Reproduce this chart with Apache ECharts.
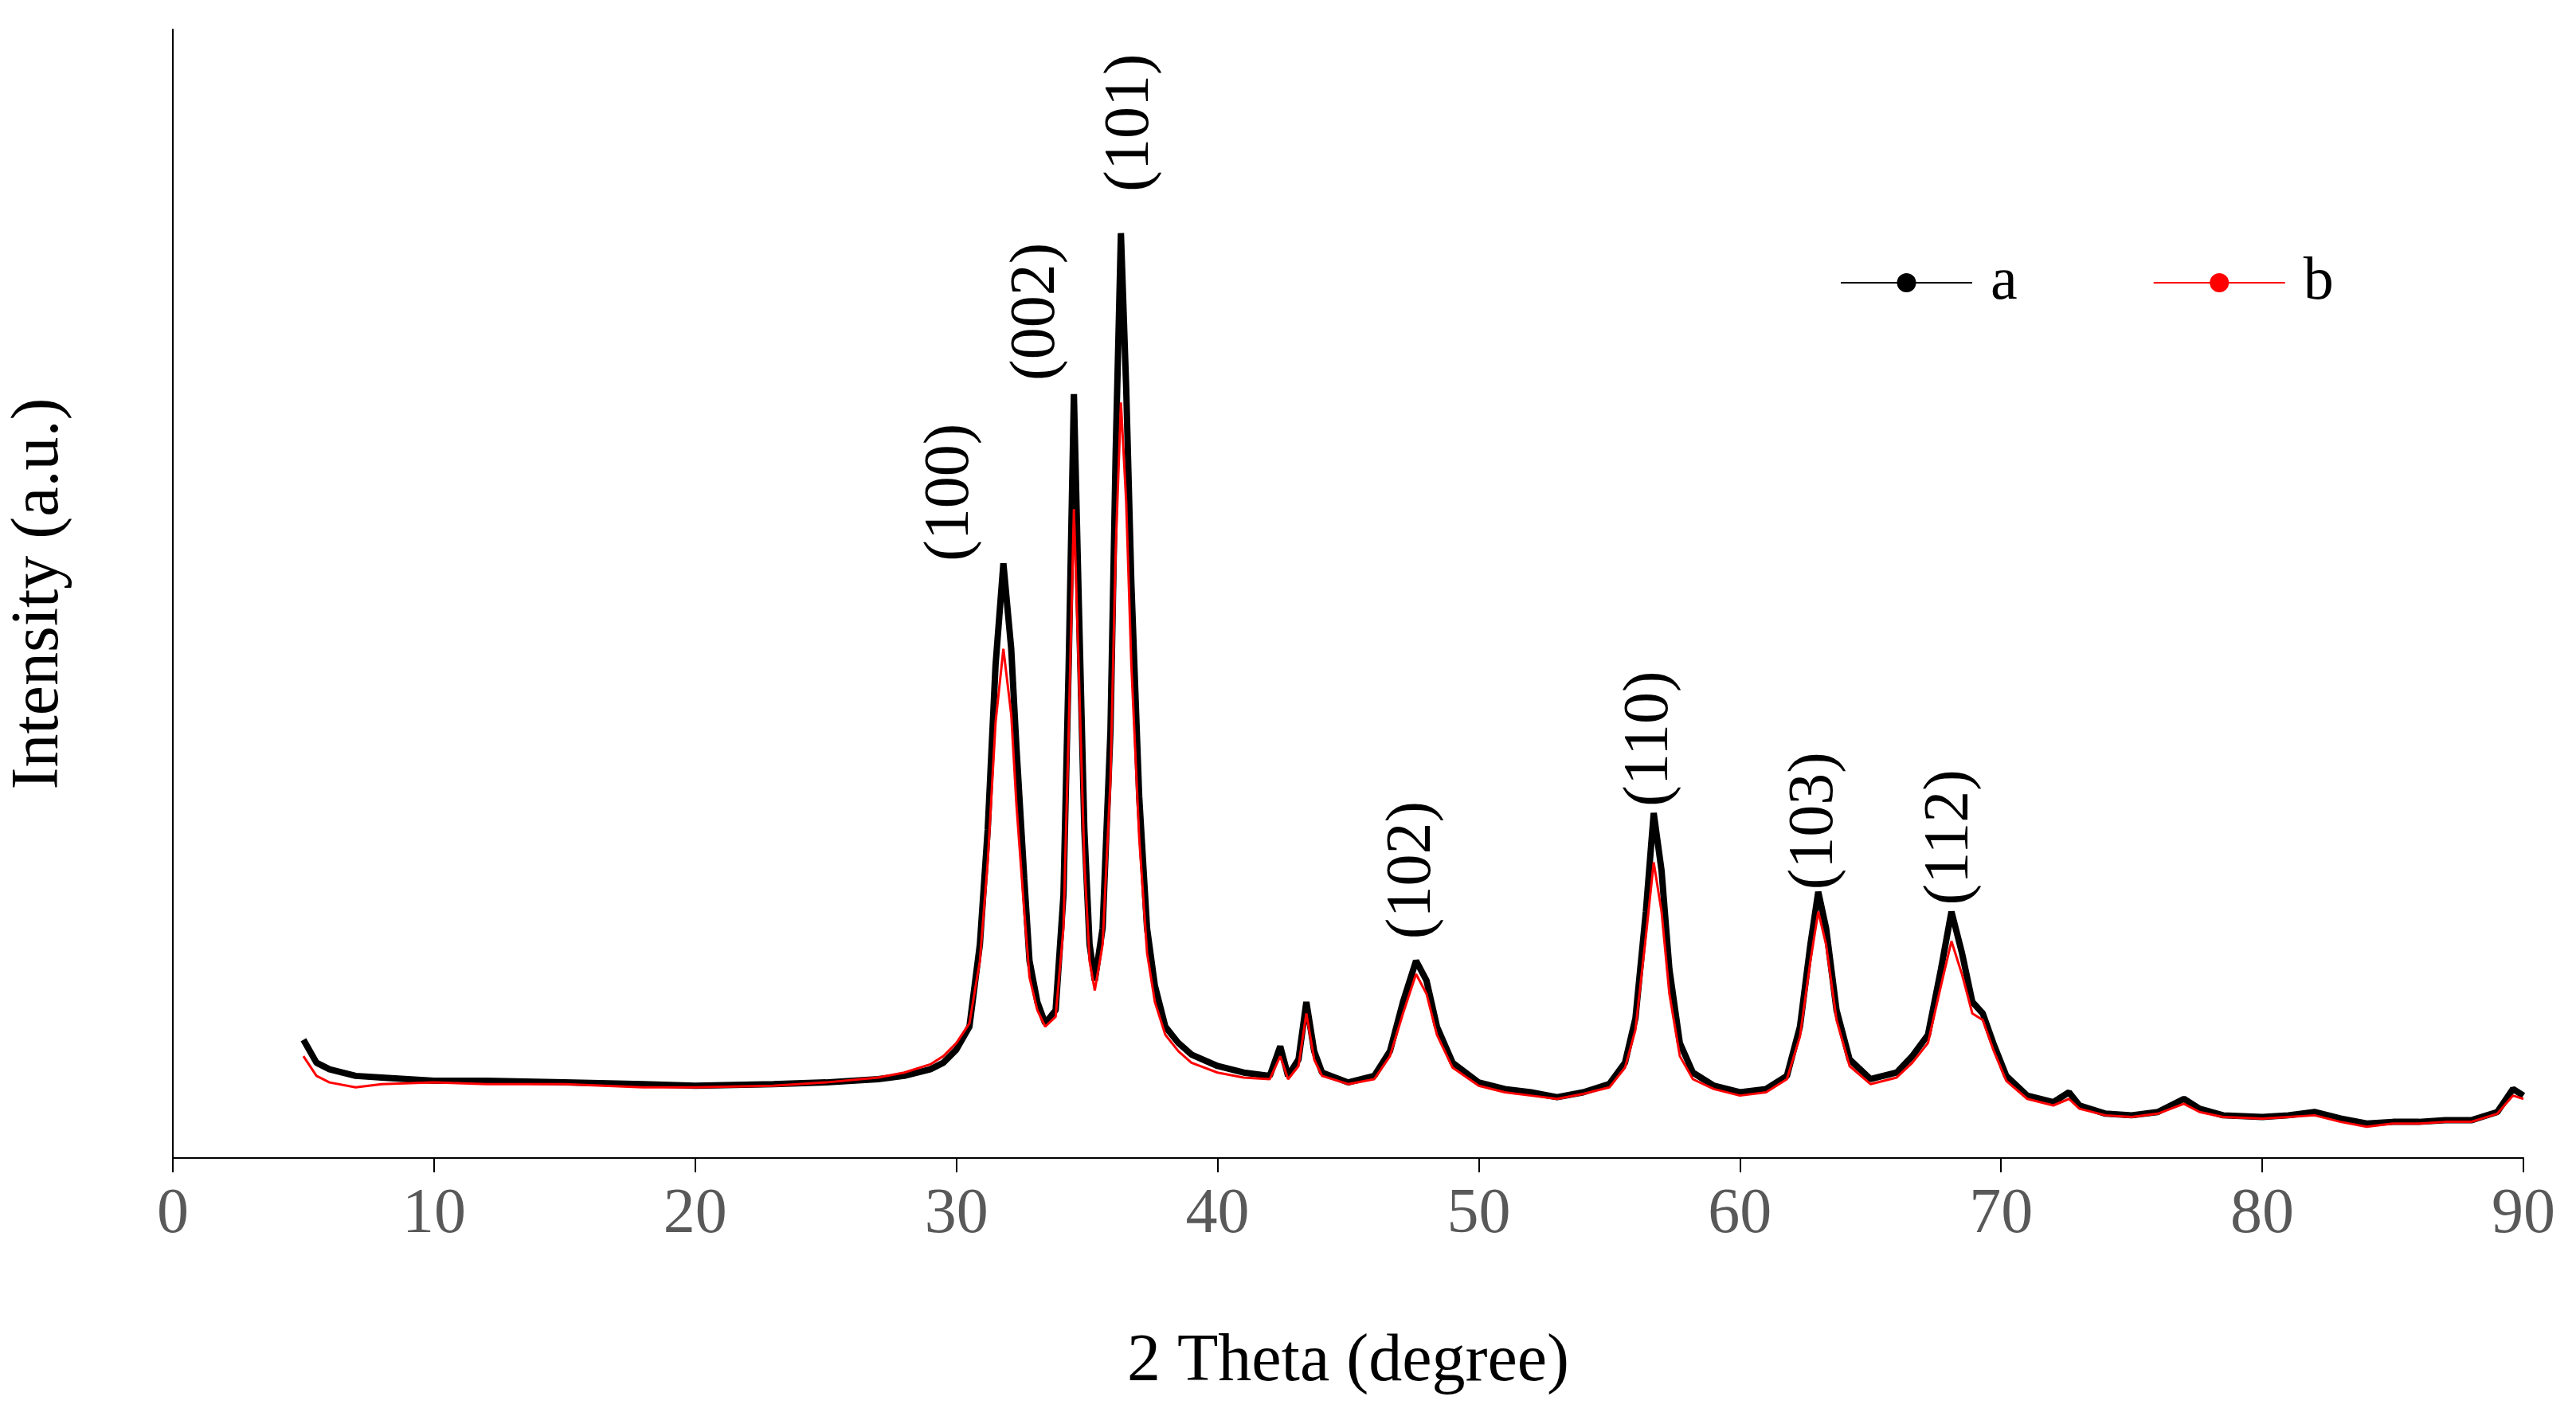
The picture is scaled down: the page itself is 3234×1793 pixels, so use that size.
<!DOCTYPE html>
<html>
<head>
<meta charset="utf-8">
<script src="https://cdn.jsdelivr.net/npm/echarts@6/dist/echarts.min.js"></script>
<style>html,body{margin:0;padding:0;background:#fff}#chart{width:3234px;height:1793px}</style>
</head>
<body>
<div id="chart"></div>
<script>
// sample a: [2theta, intensity]
const seriesA = [
  [5,72],[5.5,58],[6,54],[7,50],[8,49],[10,47],[12,47],[15,46],[18,45],[20,44],[23,45],[25,46],[27,48],[28,50],[29,54],[29.5,58],
  [30,66],[30.5,80],[30.9,130],[31.2,200],[31.5,300],[31.8,362],[32.1,310],[32.3,250],[32.6,170],[32.8,120],[33.1,95],[33.4,82],[33.8,90],
  [34.1,160],[34.3,300],[34.5,465],[34.7,330],[34.9,200],[35.1,130],[35.3,108],[35.6,140],[35.9,260],[36.1,430],[36.3,563],[36.5,470],
  [36.7,350],[37,220],[37.3,140],[37.6,105],[38,80],[38.5,70],[39,63],[40,56],[41,52],[42,50],[42.4,68],[42.7,50],[43.1,60],[43.4,95],
  [43.7,65],[44,52],[45,46],[46,50],[46.6,65],[47.1,95],[47.6,120],[48,108],[48.4,80],[49,58],[50,46],[51,42],[52,40],[53,37],[54,40],
  [55,45],[55.6,58],[56,85],[56.4,150],[56.7,210],[57,175],[57.3,115],[57.7,70],[58.2,52],[59,44],[60,40],[61,42],[61.8,50],[62.3,80],
  [62.7,130],[63,162],[63.3,140],[63.7,90],[64.2,60],[65,48],[66,52],[66.6,62],[67.2,75],[67.7,115],[68.1,150],[68.5,125],[68.9,95],
  [69.3,88],[69.7,70],[70.2,50],[71,38],[72,34],[72.6,40],[73,32],[74,27],[75,26],[76,28],[77,36],[77.6,30],[78.5,26],[80,25],
  [81,26],[82,28],[83,24],[84,21],[85,22],[86,22],[87,23],[88,23],[89,28],[89.6,42],[90,38]
];
// sample b
const seriesB = [
  [5,62],[5.5,50],[6,46],[7,43],[8,45],[10,46],[12,45],[15,45],[18,43],[20,43],[23,44],[25,46],[27,49],[28,52],[29,57],[29.5,62],
  [30,70],[30.5,82],[30.9,120],[31.2,180],[31.5,265],[31.8,310],[32.1,270],[32.3,215],[32.6,150],[32.8,110],[33.1,90],[33.4,80],[33.8,86],
  [34.1,140],[34.3,260],[34.5,395],[34.7,290],[34.9,180],[35.1,120],[35.3,102],[35.6,130],[35.9,230],[36.1,370],[36.3,460],[36.5,400],
  [36.7,300],[37,195],[37.3,125],[37.6,95],[38,75],[38.5,65],[39,58],[40,52],[41,49],[42,48],[42.4,62],[42.7,48],[43.1,56],[43.4,88],
  [43.7,60],[44,50],[45,45],[46,48],[46.6,62],[47.1,88],[47.6,112],[48,100],[48.4,75],[49,55],[50,44],[51,40],[52,38],[53,36],[54,39],
  [55,43],[55.6,55],[56,78],[56.4,135],[56.7,180],[57,150],[57.3,100],[57.7,62],[58.2,48],[59,42],[60,38],[61,40],[61.8,48],[62.3,74],
  [62.7,120],[63,150],[63.3,130],[63.7,84],[64.2,56],[65,45],[66,49],[66.6,58],[67.2,70],[67.7,105],[68.1,132],[68.5,112],[68.9,88],
  [69.3,84],[69.7,66],[70.2,47],[71,36],[72,32],[72.6,36],[73,30],[74,26],[75,25],[76,27],[77,33],[77.6,28],[78.5,25],[80,24],
  [81,25],[82,26],[83,22],[84,19],[85,21],[86,21],[87,22],[88,22],[89,27],[89.6,38],[90,36]
];
const peakLabels = ['(100)','(002)','(101)','(102)','(110)','(103)','(112)'];
const peakPos = [[29.8,405],[33.1,515],[36.7,630],[47.5,175],[56.6,255],[62.9,205],[68.1,195]];
const xTicks = [0,10,20,30,40,50,60,70,80,90];

const chart = echarts.init(document.getElementById('chart'));
const serif = 'Liberation Serif';

chart.setOption({
  animation: false,
  backgroundColor: '#fff',
  grid: {left: 214, right: 66, top: 37, bottom: 339},
  legend: {
    left: 2305, top: 312, itemWidth: 165, itemHeight: 30, itemGap: 170,
    textStyle: {fontFamily: serif, fontSize: 76, color: '#000', padding: [0, 0, 0, 18]},
    data: ['a', 'b']
  },
  xAxis: {
    type: 'value', min: xTicks[0], max: xTicks[xTicks.length - 1], interval: 10,
    name: '2 Theta (degree)', nameLocation: 'middle', nameGap: 215,
    nameTextStyle: {fontFamily: serif, fontSize: 84, color: '#000'},
    axisLine: {lineStyle: {color: '#000', width: 2}},
    axisTick: {inside: false, length: 18, lineStyle: {color: '#000', width: 2}},
    axisLabel: {fontFamily: serif, fontSize: 80, color: '#595959', margin: 32},
    splitLine: {show: false}
  },
  yAxis: {
    type: 'value', min: 0, max: 687,
    name: 'Intensity (a.u.)', nameLocation: 'middle', nameGap: 125,
    nameTextStyle: {fontFamily: serif, fontSize: 84, color: '#000'},
    axisLine: {show: true, lineStyle: {color: '#000', width: 2}},
    axisTick: {show: false}, axisLabel: {show: false}, splitLine: {show: false}
  },
  series: [
    {name: 'a', type: 'line', data: seriesA, symbol: 'none', color: '#000', lineStyle: {width: 8, color: '#000'}},
    {name: 'b', type: 'line', data: seriesB, symbol: 'none', color: '#ff0000', lineStyle: {width: 3, color: '#ff0000'}},
    {
      name: 'labels', type: 'scatter', symbolSize: 1, silent: true,
      itemStyle: {opacity: 0},
      data: peakPos.map((p, i) => ({value: p, name: peakLabels[i]})),
      label: {
        show: true, position: [0, 0], rotate: 90, align: 'center', verticalAlign: 'middle',
        formatter: '{b}', opacity: 1,
        fontFamily: serif, fontSize: 80, color: '#000'
      }
    }
  ]
});
</script>
</body>
</html>
